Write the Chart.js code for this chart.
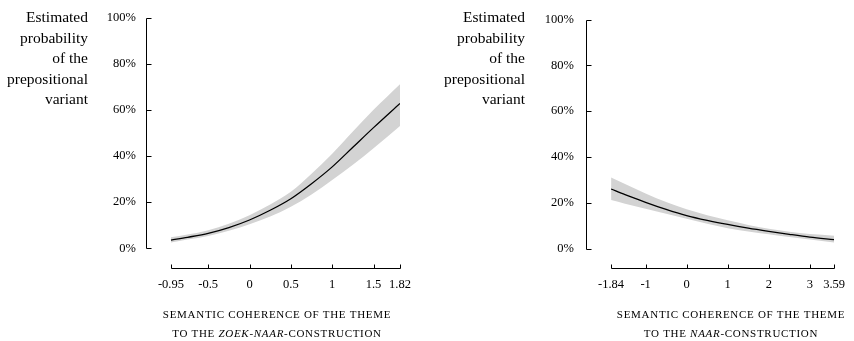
<!DOCTYPE html>
<html>
<head>
<meta charset="utf-8">
<script src="https://cdn.jsdelivr.net/npm/chart.js@4.4.1/dist/chart.umd.min.js"></script>
<style>
  body { margin: 0; background: #fff; }
  .wrap { position: relative; width: 854px; height: 341px; }
  canvas { position: absolute; top: 0; }
</style>
</head>
<body>
<div class="wrap">
  <canvas id="left" width="427" height="341" style="left:0"></canvas>
  <canvas id="right" width="427" height="341" style="left:427px"></canvas>
</div>
<script>
// left panel: zoek-naar construction
const coherenceZoek = [-0.95, -0.75, -0.5, -0.25, 0, 0.25, 0.5, 0.75, 1, 1.25, 1.5, 1.82];
const fitZoek = [3.6, 4.8, 6.5, 9.0, 12.3, 16.5, 21.5, 28, 35.3, 43.8, 52.3, 62.8];
const lowerZoek = [2.5, 3.8, 5.4, 7.6, 10.5, 13.8, 18, 23.3, 29.6, 36.2, 43.4, 53];
const upperZoek = [4.8, 6.0, 7.9, 10.7, 14.4, 19, 24.5, 32.3, 41, 50.6, 60, 71.1];
const xTicksZoek = [-0.95, -0.5, 0, 0.5, 1, 1.5, 1.82];

// right panel: naar construction
const coherenceNaar = [-1.84, -1.5, -1, -0.5, 0, 0.5, 1, 1.5, 2, 2.5, 3, 3.59];
const fitNaar = [26, 23.5, 20.2, 17.1, 14.4, 12.3, 10.5, 8.9, 7.5, 6.2, 5.0, 3.9];
const lowerNaar = [21.2, 19.6, 17.4, 15.2, 13, 10.8, 8.9, 7.4, 6.2, 5.0, 3.9, 2.6];
const upperNaar = [31, 28.2, 24.0, 20.3, 17.1, 14.5, 12.3, 10.3, 8.6, 7.3, 6.3, 5.6];
const xTicksNaar = [-1.84, -1, 0, 1, 2, 3, 3.59];

const yTicks = [0, 20, 40, 60, 80, 100];
const yTitle = ["Estimated", "probability", "of the", "prepositional", "variant"];

const serif = '"Liberation Serif", "Times New Roman", serif';
Chart.defaults.font.family = serif;
Chart.defaults.color = "#000";

function pts(xs, ys) {
  return xs.map((x, i) => ({ x: x, y: ys[i] }));
}

// draws the offset axes, the inward tick marks and the titles
const frame = {
  id: "frame",
  afterDraw(chart, args, opts) {
    const { ctx, chartArea, scales } = chart;
    const x = scales.x, y = scales.y;
    ctx.save();
    ctx.strokeStyle = "#000";
    ctx.lineWidth = 1;

    // y axis
    const ax = Math.round(chartArea.left) + 0.5;
    const yTop = Math.round(y.getPixelForValue(100)) + 0.5;
    const yBot = Math.round(y.getPixelForValue(0)) + 0.5;
    ctx.beginPath();
    ctx.moveTo(ax, yTop);
    ctx.lineTo(ax, yBot);
    y.ticks.forEach(t => {
      const py = Math.round(y.getPixelForValue(t.value)) + 0.5;
      ctx.moveTo(ax, py);
      ctx.lineTo(ax + 5, py);
    });
    ctx.stroke();

    // x axis
    const ay = Math.round(chartArea.bottom) + 0.5;
    const xs = x.ticks.map(t => Math.round(x.getPixelForValue(t.value)) + 0.5);
    ctx.beginPath();
    ctx.moveTo(xs[0], ay);
    ctx.lineTo(xs[xs.length - 1], ay);
    xs.forEach(px => {
      ctx.moveTo(px, ay);
      ctx.lineTo(px, ay - 4);
    });
    ctx.stroke();

    // y title
    ctx.fillStyle = "#000";
    ctx.font = "15.5px " + serif;
    ctx.textAlign = "right";
    ctx.textBaseline = "middle";
    yTitle.forEach((line, i) => ctx.fillText(line, opts.titleX, 18 + i * 20.5));

    // x title, small caps imitation
    ctx.letterSpacing = "0.7px";
    ctx.textAlign = "left";
    const plain = "11px " + serif;
    const ital = "italic 11px " + serif;
    const line1 = "SEMANTIC COHERENCE OF THE THEME";
    ctx.font = plain;
    const w1 = ctx.measureText(line1).width;
    ctx.fillText(line1, opts.centerX - w1 / 2, 315);

    const parts = [[opts.pre, plain], [opts.name, ital], [opts.post, plain]];
    let total = 0;
    parts.forEach(p => { ctx.font = p[1]; total += ctx.measureText(p[0]).width; });
    let cx = opts.centerX - total / 2;
    parts.forEach(p => {
      ctx.font = p[1];
      ctx.fillText(p[0], cx, 334);
      cx += ctx.measureText(p[0]).width;
    });
    ctx.restore();
  }
};

function makeChart(id, xs, fit, lower, upper, xTicks, cfg) {
  return new Chart(document.getElementById(id), {
    type: "line",
    data: {
      datasets: [
        {
          data: pts(xs, lower),
          borderWidth: 0,
          pointRadius: 0,
          fill: false,
          order: 2
        },
        {
          data: pts(xs, upper),
          borderWidth: 0,
          pointRadius: 0,
          backgroundColor: "#d3d3d3",
          fill: "-1",
          order: 1
        },
        {
          data: pts(xs, fit),
          borderColor: "#000",
          borderWidth: 1.3,
          pointRadius: 0,
          fill: false,
          order: 0
        }
      ]
    },
    options: {
      responsive: false,
      animation: false,
      events: [],
      cubicInterpolationMode: "monotone",
      layout: { padding: { left: 0, top: 17, right: cfg.padRight, bottom: 0 } },
      plugins: {
        legend: { display: false },
        tooltip: { enabled: false },
        filler: { drawTime: "beforeDatasetsDraw" },
        frame: cfg.frame
      },
      scales: {
        x: {
          type: "linear",
          min: cfg.xMin,
          max: xTicks[xTicks.length - 1],
          afterBuildTicks: s => { s.ticks = xTicks.map(v => ({ value: v })); },
          afterFit: s => { s.height = 73; },
          grid: { display: false, drawTicks: false },
          border: { display: false },
          ticks: {
            autoSkip: false,
            maxRotation: 0,
            padding: 9,
            font: { size: 12.5 },
            callback: v => String(v)
          }
        },
        y: {
          min: -8.5,
          max: 100,
          afterBuildTicks: s => { s.ticks = yTicks.map(v => ({ value: v })); },
          afterFit: s => { s.width = cfg.yWidth; },
          grid: { display: false, drawTicks: false },
          border: { display: false },
          ticks: {
            padding: cfg.tickPad,
            font: { size: 12.5 },
            callback: v => v + "%"
          }
        }
      }
    },
    plugins: [frame]
  });
}

makeChart("left", coherenceZoek, fitZoek, lowerZoek, upperZoek, xTicksZoek, {
  xMin: -1.252,
  padRight: 27,
  yWidth: 146,
  tickPad: 10,
  frame: { titleX: 88, centerX: 277, pre: "TO THE ", name: "ZOEK-NAAR", post: "-CONSTRUCTION" }
});

makeChart("right", coherenceNaar, fitNaar, lowerNaar, upperNaar, xTicksNaar, {
  xMin: -2.451,
  padRight: 14,
  yWidth: 159,
  tickPad: 12,
  frame: { titleX: 98, centerX: 304, pre: "TO THE ", name: "NAAR", post: "-CONSTRUCTION" }
});
</script>
</body>
</html>
